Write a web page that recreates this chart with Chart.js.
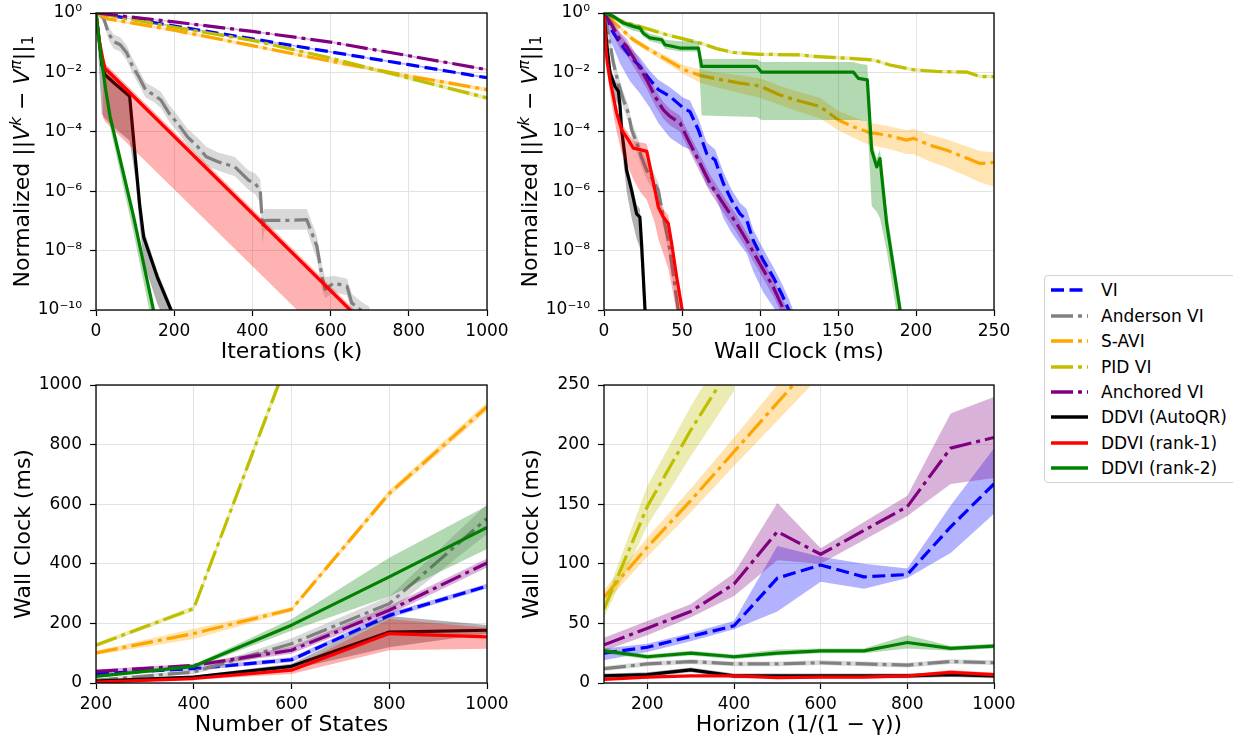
<!DOCTYPE html>
<html>
<head>
<meta charset="utf-8">
<title>DDVI convergence and wall clock</title>
<script src="https://cdn.jsdelivr.net/npm/chart.js@4.4.1/dist/chart.umd.min.js"></script>
<style>
  html, body { margin: 0; padding: 0; background: #fff; }
  body { position: relative; width: 1233px; height: 738px; overflow: hidden; font-family: "DejaVu Sans", sans-serif; }
  canvas { position: absolute; }
  #legend { position: absolute; left: 1044px; top: 275px; width: 210px; height: 208px; box-sizing: border-box;
            border: 1px solid #d4d4d4; border-radius: 4px; background: #fff; }
  #legend .row { position: absolute; left: 0; height: 24px; line-height: 24px; font-size: 17px; color: #000; white-space: nowrap; }
  #legend svg { position: absolute; left: 6px; top: 8px; }
  #legend span { position: absolute; left: 56px; top: 0; }
</style>
</head>
<body>
<canvas id="tl"></canvas>
<canvas id="tr"></canvas>
<canvas id="bl"></canvas>
<canvas id="br"></canvas>
<div id="legend"></div>
<script>
const methods = ['VI', 'Anderson VI', 'S-AVI', 'PID VI', 'Anchored VI', 'DDVI (AutoQR)', 'DDVI (rank-1)', 'DDVI (rank-2)'];

// ---- top left: error vs iterations. values are exponents e, error = 10^-e
const tlViX = [0, 200, 400, 600, 800, 1000];
const tlViE = [0, 0.44, 0.87, 1.31, 1.74, 2.18];
const tlViHi = [0, 0.42, 0.85, 1.28, 1.71, 2.15];
const tlViLo = [0, 0.47, 0.9, 1.34, 1.77, 2.21];

const tlAndX = [0, 19, 32, 45, 62, 79, 92, 109, 127, 148, 166, 187, 209, 234, 260, 282, 312, 355, 390, 407, 420, 426, 430, 437, 502, 539, 565, 578, 586, 608, 642, 654, 676, 700];
const tlAndE = [0, 0.15, 0.68, 0.96, 1.07, 1.35, 1.75, 2.14, 2.59, 2.76, 2.93, 3.38, 3.72, 4.17, 4.5, 4.84, 5.01, 5.18, 5.63, 5.74, 5.97, 7.2, 7.0, 6.98, 6.98, 6.96, 7.86, 8.87, 9.3, 9.09, 9.2, 9.76, 9.99, 10.2];
const tlAndHi = [0, 0, 0.45, 0.72, 0.82, 1.1, 1.5, 1.9, 2.35, 2.5, 2.65, 3.1, 3.45, 3.9, 4.2, 4.5, 4.7, 4.85, 5.3, 5.4, 5.6, 6.8, 6.6, 6.6, 6.6, 6.6, 7.5, 8.5, 8.9, 8.85, 8.95, 9.45, 9.7, 9.9];
const tlAndLo = [0, 0.3, 0.9, 1.2, 1.3, 1.6, 2.0, 2.4, 2.85, 3.0, 3.2, 3.65, 4.0, 4.45, 4.8, 5.15, 5.3, 5.5, 5.95, 6.1, 6.4, 7.8, 7.35, 7.3, 7.3, 7.3, 8.3, 9.3, 9.6, 9.4, 9.5, 10.1, 10.3, 10.5];

const tlSaviX = [0, 30, 200, 400, 600, 800, 1000];
const tlSaviE = [0, 0.2, 0.58, 1.1, 1.62, 2.12, 2.58];
const tlSaviHi = [0, 0.15, 0.53, 1.05, 1.57, 2.06, 2.52];
const tlSaviLo = [0, 0.25, 0.64, 1.16, 1.68, 2.19, 2.66];

const tlPidX = [0, 200, 400, 600, 800, 1000];
const tlPidE = [0, 0.48, 0.92, 1.52, 2.19, 2.86];
const tlPidHi = [0, 0.44, 0.88, 1.47, 2.13, 2.79];
const tlPidLo = [0, 0.52, 0.97, 1.58, 2.26, 2.94];

const tlAncX = [0, 200, 400, 600, 800, 1000];
const tlAncE = [0, 0.3, 0.62, 0.98, 1.44, 1.91];
const tlAncHi = [0, 0.28, 0.59, 0.95, 1.41, 1.88];
const tlAncLo = [0, 0.33, 0.65, 1.01, 1.47, 1.94];

const tlQrX = [0, 10, 15, 23, 50, 86, 101, 112, 122, 157, 191, 205];
const tlQrE = [0, 1.1, 1.75, 2.08, 2.4, 2.8, 4.95, 6.5, 7.55, 8.9, 9.97, 10.5];
const tlQrHi = [0, 0.9, 1.55, 1.85, 2.2, 2.6, 4.6, 6.2, 7.3, 8.7, 9.8, 10.3];
const tlQrLo = [0, 2.4, 3.4, 3.55, 3.9, 4.3, 5.6, 7.2, 8.4, 9.8, 10.8, 11.3];

const tlR1X = [0, 8, 17, 23, 650, 700];
const tlR1E = [0, 0.9, 1.52, 1.86, 10.0, 10.65];
const tlR1BandX = [17, 23, 700];
const tlR1Hi = [1.35, 1.7, 10.5];
const tlR1Lo = [3.5, 3.65, 12.4];

const tlR2X = [0, 5, 10, 15, 25, 36, 96, 147, 160];
const tlR2E = [0, 0.6, 1.15, 1.65, 2.6, 3.48, 6.85, 10.0, 10.8];
const tlR2Hi = [0, 0.55, 1.08, 1.58, 2.5, 3.4, 6.75, 9.9, 10.7];
const tlR2Lo = [0, 0.75, 1.35, 1.9, 2.9, 3.85, 7.4, 10.7, 11.5];

// ---- top right: error vs wall clock (ms), same exponent encoding
const trViX = [0, 4, 10.3, 16.7, 23, 29.5, 34.8, 42.3, 50.9, 55.1, 60.5, 65.8, 71.2, 76.5, 81.8, 87.2, 91.5, 95.7, 102.1, 108.5, 113.9, 118.2, 121];
const trViE = [0, 0.5, 1.01, 1.46, 1.8, 2.25, 2.58, 2.81, 3.2, 3.32, 3.94, 4.73, 4.95, 5.74, 6.31, 6.76, 6.98, 7.66, 8.33, 8.9, 9.46, 9.97, 10.3];
const trViHi = [0, 0.2, 0.7, 1.15, 1.5, 1.95, 2.25, 2.5, 2.85, 2.95, 3.55, 4.35, 4.6, 5.35, 5.95, 6.4, 6.6, 7.3, 7.95, 8.55, 9.1, 9.6, 9.95];
const trViLo = [0, 0.9, 1.7, 2.3, 2.7, 3.2, 3.7, 4.2, 4.5, 4.6, 5.1, 5.8, 6.1, 6.9, 7.4, 7.8, 8.1, 8.7, 9.4, 9.9, 10.4, 10.9, 11.2];

const trAndX = [0, 2.8, 6, 9.2, 12.4, 15.6, 17.7, 21, 24.2, 27.4, 31.6, 34.8, 38, 41.2, 43.4, 45.5, 47.6, 49];
const trAndE = [0, 0.7, 1.68, 2.36, 2.92, 3.37, 3.93, 4.38, 4.88, 5.3, 5.63, 5.97, 6.87, 7.66, 8.45, 9.23, 10.0, 10.5];
const trAndHi = [0, 0.45, 1.4, 2.1, 2.65, 3.1, 3.65, 4.1, 4.6, 5.0, 5.35, 5.7, 6.55, 7.35, 8.15, 8.95, 9.7, 10.2];
const trAndLo = [0, 0.95, 1.95, 2.65, 3.2, 3.65, 4.2, 4.7, 5.2, 5.6, 5.95, 6.3, 7.2, 8.0, 8.8, 9.55, 10.3, 10.8];

const trSaviX = [0, 10.3, 18.8, 29.5, 40.2, 50.9, 61.5, 72.2, 87.2, 100, 112.8, 121, 138.5, 150.2, 159.8, 170.5, 181.2, 194, 198.3, 209, 219.7, 230.4, 241, 250];
const trSaviE = [0, 0.5, 0.9, 1.25, 1.57, 1.9, 2.1, 2.22, 2.36, 2.46, 2.76, 2.9, 3.15, 3.6, 3.83, 4.03, 4.11, 4.28, 4.22, 4.45, 4.62, 4.84, 5.07, 5.03];
const trSaviHi = [0, 0.44, 0.82, 1.15, 1.45, 1.75, 1.9, 2.0, 2.1, 2.2, 2.45, 2.6, 2.85, 3.3, 3.5, 3.7, 3.8, 3.95, 3.9, 4.1, 4.25, 4.45, 4.65, 4.7];
const trSaviLo = [0, 0.56, 1.0, 1.35, 1.7, 2.05, 2.35, 2.5, 2.7, 2.85, 3.1, 3.25, 3.55, 3.95, 4.2, 4.45, 4.55, 4.75, 4.75, 5.0, 5.2, 5.45, 5.7, 5.85];

const trPidX = [0, 10.3, 18.8, 29.5, 40.2, 50.9, 61.5, 72.2, 82.9, 100, 125.6, 134.2, 155.6, 172.6, 183.3, 198.3, 213.3, 232.6, 241, 250];
const trPidE = [0, 0.25, 0.39, 0.56, 0.73, 0.87, 1.01, 1.2, 1.33, 1.39, 1.41, 1.46, 1.52, 1.58, 1.75, 1.91, 1.97, 1.99, 2.14, 2.14];
const trPidHi = [0, 0.2, 0.34, 0.5, 0.67, 0.81, 0.95, 1.14, 1.27, 1.33, 1.35, 1.4, 1.46, 1.52, 1.69, 1.85, 1.91, 1.93, 2.08, 2.08];
const trPidLo = [0, 0.3, 0.44, 0.62, 0.79, 0.93, 1.07, 1.26, 1.39, 1.45, 1.47, 1.52, 1.58, 1.64, 1.81, 1.97, 2.03, 2.05, 2.2, 2.2];

const trAncX = [0, 5, 10.3, 14.5, 21, 27.4, 32.7, 38, 42.3, 48.7, 53, 59.4, 68, 76.5, 85, 91.5, 100, 108.5, 115, 118];
const trAncE = [0, 0.4, 0.9, 1.12, 1.68, 2.25, 2.81, 3.26, 3.48, 3.7, 4.17, 4.84, 5.74, 6.42, 7.09, 7.66, 8.45, 9.23, 9.97, 10.3];
const trAncHi = [0, 0.2, 0.65, 0.87, 1.43, 2.0, 2.56, 3.0, 3.23, 3.45, 3.9, 4.55, 5.45, 6.15, 6.8, 7.4, 8.15, 8.95, 9.7, 10.0];
const trAncLo = [0, 0.65, 1.2, 1.42, 1.98, 2.55, 3.11, 3.56, 3.78, 4.0, 4.47, 5.14, 6.04, 6.72, 7.39, 7.96, 8.75, 9.53, 10.27, 10.6];

const trQrX = [0, 1.7, 3.85, 7.05, 9.2, 10.3, 11.3, 13.5, 14.5, 17.7, 20.9, 23, 24.1, 26.3, 28];
const trQrE = [0, 1.01, 2.02, 2.47, 2.64, 3.14, 3.93, 4.83, 5.3, 5.97, 6.76, 6.87, 7.77, 10.0, 10.8];
const trQrHi = [0, 0.85, 1.8, 2.25, 2.45, 2.9, 3.65, 4.55, 5.0, 5.7, 6.45, 6.6, 7.5, 9.7, 10.5];
const trQrLo = [0, 1.4, 2.5, 2.9, 3.1, 3.7, 4.5, 5.5, 6.0, 6.9, 7.6, 7.9, 8.7, 10.8, 11.5];

const trR1X = [0, 1.28, 2.1, 3.85, 6.0, 8.1, 11.3, 15.6, 18.8, 23, 27.4, 29.5, 32.7, 34.8, 38, 41.2, 43.4, 46.6, 49.8, 52];
const trR1E = [0, 1.24, 1.68, 2.25, 2.81, 3.37, 3.93, 4.27, 4.55, 4.6, 4.66, 5.18, 5.97, 6.53, 6.87, 7.09, 7.77, 8.9, 9.91, 10.6];
const trR1Hi = [0, 1.1, 1.5, 2.05, 2.6, 3.15, 3.7, 4.05, 4.3, 4.35, 4.4, 4.9, 5.7, 6.25, 6.6, 6.8, 7.5, 8.6, 9.6, 10.3];
const trR1Lo = [0, 1.5, 2.0, 2.7, 3.4, 4.0, 4.7, 5.2, 5.6, 6.0, 6.3, 6.6, 7.1, 7.6, 8.1, 8.6, 9.2, 10.1, 10.9, 11.5];

const trR2X = [0, 6, 12.4, 18.8, 23, 25.2, 29.5, 37, 39.1, 48.7, 60.5, 62.6, 97.9, 101, 159.8, 163, 168.8, 171.6, 174.8, 176.9, 181.2, 189.7, 192];
const trR2E = [0, 0.11, 0.34, 0.45, 0.51, 0.68, 0.84, 0.9, 1.07, 1.18, 1.18, 1.8, 1.8, 1.99, 1.99, 2.2, 2.25, 4.62, 5.18, 4.9, 7.09, 9.97, 10.6];
const trR2Hi = [0, 0.05, 0.25, 0.35, 0.4, 0.55, 0.7, 0.8, 0.9, 0.95, 0.95, 1.55, 1.55, 1.65, 1.65, 1.7, 1.75, 4.3, 4.9, 4.6, 6.6, 9.6, 10.3];
const trR2Lo = [0, 0.2, 0.45, 0.6, 0.65, 0.8, 0.95, 1.05, 1.2, 1.3, 1.3, 3.45, 3.5, 3.6, 3.6, 3.6, 3.65, 6.5, 6.7, 6.9, 8.0, 10.8, 11.3];

// ---- bottom left: wall clock (ms) vs number of states
const blX = [200, 400, 600, 800, 1000];
const blVi = [31, 48, 78, 227, 325];
const blViLo = [26, 43, 70, 218, 317];
const blViHi = [36, 53, 86, 236, 333];
const blAnd = [9, 37, 132, 266, 552];
const blAndLo = [4, 30, 112, 240, 500];
const blAndHi = [14, 44, 150, 290, 600];
const blSavi = [101, 166, 247, 636, 927];
const blSaviLo = [94, 148, 240, 625, 912];
const blSaviHi = [108, 182, 254, 648, 942];
const blPidX = [200, 400, 600];
const blPid = [127, 250, 1117];
const blPidLo = [120, 242, 1100];
const blPidHi = [134, 258, 1135];
const blAnc = [39, 59, 110, 244, 403];
const blAncLo = [33, 53, 98, 230, 388];
const blAncHi = [45, 65, 122, 258, 418];
const blQr = [6, 20, 56, 171, 177];
const blQrLo = [3, 15, 45, 120, 165];
const blQrHi = [9, 25, 65, 225, 195];
const blR1 = [3, 15, 43, 166, 155];
const blR1Lo = [1, 11, 30, 110, 115];
const blR1Hi = [5, 19, 50, 215, 185];
const blR2 = [22, 56, 194, 356, 522];
const blR2Lo = [18, 50, 175, 290, 450];
const blR2Hi = [26, 62, 215, 420, 595];

// ---- bottom right: wall clock (ms) vs horizon
const brX = [100, 200, 300, 400, 500, 600, 700, 800, 900, 1000];
const brVi = [25, 30, 39, 48, 88, 99, 89, 91, 131, 167];
const brViLo = [19, 26, 35, 45, 60, 85, 79, 88, 109, 142];
const brViHi = [29, 33, 42, 52, 115, 106, 100, 96, 149, 197];
const brAnd = [12, 16, 18, 16, 16, 17, 16, 15, 18, 17];
const brAndLo = [10, 14, 16, 14, 14, 15, 14, 13, 16, 15];
const brAndHi = [14, 18, 20, 18, 18, 19, 18, 17, 20, 19];
const brSaviX = [100, 200, 300, 400, 500, 600];
const brSavi = [72, 114, 153, 194, 235, 276];
const brSaviLo = [66, 106, 143, 182, 220, 258];
const brSaviHi = [78, 122, 163, 206, 250, 294];
const brPidX = [100, 200, 300, 400];
const brPid = [62, 148, 212, 270];
const brPidLo = [55, 132, 190, 245];
const brPidHi = [68, 165, 232, 292];
const brAnc = [32, 46, 60, 83, 127, 108, 128, 148, 197, 206];
const brAncLo = [27, 40, 55, 73, 103, 100, 120, 140, 167, 172];
const brAncHi = [38, 52, 66, 92, 151, 113, 135, 157, 226, 240];
const brQr = [6, 7, 11, 6, 6, 6, 6, 6, 7, 6];
const brQrLo = [4, 5, 9, 4, 4, 4, 4, 4, 5, 4];
const brQrHi = [8, 9, 13, 8, 8, 8, 8, 8, 9, 8];
const brR1 = [3, 5, 6, 6, 4.5, 5, 5, 6, 9, 7];
const brR1Lo = [2, 4, 5, 5, 3.5, 4, 4, 5, 7, 5.5];
const brR1Hi = [4, 6, 7, 7, 5.5, 6, 6, 7, 11, 8.5];
const brR2 = [27, 22, 25, 22, 25, 27, 27, 34, 29, 31];
const brR2Lo = [25, 20, 23, 20, 23, 25, 25, 29, 27, 29];
const brR2Hi = [29, 24, 27, 24, 28, 29, 29, 40, 31, 33];

// tick values
const tlTicksX = [0, 200, 400, 600, 800, 1000];
const trTicksX = [0, 50, 100, 150, 200, 250];
const logTicks = [1e-10, 1e-8, 1e-6, 1e-4, 1e-2, 1];
const blTicksX = [200, 400, 600, 800, 1000];
const blTicksY = [0, 200, 400, 600, 800, 1000];
const brTicksX = [200, 400, 600, 800, 1000];
const brTicksY = [0, 50, 100, 150, 200, 250];

// styles
const FONT = '"DejaVu Sans", sans-serif';
const colors = ['#0000ff', '#808080', '#ffa500', '#bfbf00', '#800080', '#000000', '#ff0000', '#008000'];
const bands = ['rgba(0,0,255,0.3)', 'rgba(128,128,128,0.3)', 'rgba(255,165,0,0.3)', 'rgba(191,191,0,0.3)',
  'rgba(128,0,128,0.3)', 'rgba(0,0,0,0.3)', 'rgba(255,0,0,0.3)', 'rgba(0,128,0,0.3)'];
const dashes = [[13, 5.5], [22, 5, 4, 5], [22, 5, 4, 5], [22, 5, 4, 5], [22, 5, 4, 5], [], [], []];

const PAD_TOP = 20;   // room for the top tick label + padding, so chart area is not pushed down
const pow10 = a => a && a.map(e => Math.pow(10, -e));
const logSeries = (x, e, hi, lo, bx) => ({ x: x, y: pow10(e), hi: pow10(hi), lo: pow10(lo), bx: bx });

const tlSeries = [
  logSeries(tlViX, tlViE, tlViHi, tlViLo),
  logSeries(tlAndX, tlAndE, tlAndHi, tlAndLo),
  logSeries(tlSaviX, tlSaviE, tlSaviHi, tlSaviLo),
  logSeries(tlPidX, tlPidE, tlPidHi, tlPidLo),
  logSeries(tlAncX, tlAncE, tlAncHi, tlAncLo),
  logSeries(tlQrX, tlQrE, tlQrHi, tlQrLo),
  logSeries(tlR1X, tlR1E, tlR1Hi, tlR1Lo, tlR1BandX),
  logSeries(tlR2X, tlR2E, tlR2Hi, tlR2Lo)
];
const trSeries = [
  logSeries(trViX, trViE, trViHi, trViLo),
  logSeries(trAndX, trAndE, trAndHi, trAndLo),
  logSeries(trSaviX, trSaviE, trSaviHi, trSaviLo),
  logSeries(trPidX, trPidE, trPidHi, trPidLo),
  logSeries(trAncX, trAncE, trAncHi, trAncLo),
  logSeries(trQrX, trQrE, trQrHi, trQrLo),
  logSeries(trR1X, trR1E, trR1Hi, trR1Lo),
  logSeries(trR2X, trR2E, trR2Hi, trR2Lo)
];
const blSeries = [
  { x: blX, y: blVi, hi: blViHi, lo: blViLo },
  { x: blX, y: blAnd, hi: blAndHi, lo: blAndLo },
  { x: blX, y: blSavi, hi: blSaviHi, lo: blSaviLo },
  { x: blPidX, y: blPid, hi: blPidHi, lo: blPidLo },
  { x: blX, y: blAnc, hi: blAncHi, lo: blAncLo },
  { x: blX, y: blQr, hi: blQrHi, lo: blQrLo },
  { x: blX, y: blR1, hi: blR1Hi, lo: blR1Lo },
  { x: blX, y: blR2, hi: blR2Hi, lo: blR2Lo }
];
const brSeries = [
  { x: brX, y: brVi, hi: brViHi, lo: brViLo },
  { x: brX, y: brAnd, hi: brAndHi, lo: brAndLo },
  { x: brSaviX, y: brSavi, hi: brSaviHi, lo: brSaviLo },
  { x: brPidX, y: brPid, hi: brPidHi, lo: brPidLo },
  { x: brX, y: brAnc, hi: brAncHi, lo: brAncLo },
  { x: brX, y: brQr, hi: brQrHi, lo: brQrLo },
  { x: brX, y: brR1, hi: brR1Hi, lo: brR1Lo },
  { x: brX, y: brR2, hi: brR2Hi, lo: brR2Lo }
];

function pts(xs, ys) {
  return xs.map((x, i) => ({ x: x, y: ys[i] }));
}

// later methods are drawn on top, like in matplotlib
function buildDatasets(series) {
  const out = [];
  series.forEach((s, i) => {
    const rank = 8 - i;
    if (s.hi) {
      const bx = s.bx || s.x;
      out.push({ data: pts(bx, s.hi), borderColor: 'rgba(0,0,0,0)', borderWidth: 0, fill: '+1',
        backgroundColor: bands[i], order: 2 * rank + 1, clip: 0 });
      out.push({ data: pts(bx, s.lo), borderColor: 'rgba(0,0,0,0)', borderWidth: 0, fill: false,
        order: 2 * rank + 1, clip: 0 });
    }
    out.push({ label: methods[i], data: pts(s.x, s.y), borderColor: colors[i], borderWidth: 3.2,
      borderDash: dashes[i], fill: false, order: 2 * rank, clip: 0 });
  });
  return out;
}

const sup = { '-': '\u207b', '0': '\u2070', '1': '\u00b9', '2': '\u00b2', '4': '\u2074', '6': '\u2076', '8': '\u2078' };
function powLabel(v) {
  const p = Math.round(Math.log10(v));
  return '10' + String(p).split('').map(c => sup[c]).join('');
}

// black box around the axes (matplotlib spines)
const frame = {
  id: 'frame',
  afterDatasetsDraw(chart) {
    const { ctx, chartArea: a } = chart;
    ctx.save();
    ctx.strokeStyle = '#000';
    ctx.lineWidth = 1.3;
    ctx.strokeRect(a.left, a.top, a.right - a.left, a.bottom - a.top);
    ctx.restore();
  }
};

// y title with super/subscripts: Normalized ||V^k - V^pi||_1
function mathTitle(baseX) {
  return {
    id: 'mathTitle',
    afterDraw(chart) {
      const ctx = chart.ctx, a = chart.chartArea;
      const parts = [
        ['Normalized ||', 22, '', 0],
        ['V', 22, 'italic ', 0],
        ['k', 15.4, 'italic ', -8.5],
        [' \u2212 ', 22, '', 0],
        ['V', 22, 'italic ', 0],
        ['\u03c0', 15.4, 'italic ', -8.5],
        ['||', 22, '', 0],
        ['1', 15.4, '', 4]
      ];
      ctx.save();
      ctx.translate(baseX, (a.top + a.bottom) / 2);
      ctx.rotate(-Math.PI / 2);
      ctx.fillStyle = '#000';
      ctx.textBaseline = 'alphabetic';
      ctx.textAlign = 'left';
      let total = 0;
      const widths = parts.map(p => {
        ctx.font = p[2] + p[1] + 'px ' + FONT;
        const w = ctx.measureText(p[0]).width;
        total += w;
        return w;
      });
      let cx = -total / 2;
      parts.forEach((p, i) => {
        ctx.font = p[2] + p[1] + 'px ' + FONT;
        ctx.fillText(p[0], cx, p[3]);
        cx += widths[i];
      });
      ctx.restore();
    }
  };
}

const grid = { color: '#e3e3e3', lineWidth: 1, tickColor: '#000', tickLength: 6, tickWidth: 1.2 };

function xAxis(min, max, ticks, title) {
  return {
    type: 'linear', min: min, max: max,
    afterBuildTicks: s => { s.ticks = ticks.map(v => ({ value: v })); },
    afterFit: s => { s.height = 60; },
    grid: grid, border: { display: false },
    ticks: { color: '#000', font: { family: FONT, size: 17 }, padding: 5, maxRotation: 0, autoSkip: false,
      callback: v => String(v) },
    title: { display: true, text: title, color: '#000', font: { family: FONT, size: 22 }, padding: { top: 0, bottom: 5 } }
  };
}

function yAxis(type, min, max, ticks, title) {
  return {
    type: type, min: min, max: max,
    afterBuildTicks: s => { s.ticks = ticks.map(v => ({ value: v })); },
    afterFit: s => { s.width = 96; },
    grid: grid, border: { display: false },
    ticks: { color: '#000', font: { family: FONT, size: 17 }, padding: 8, autoSkip: false,
      callback: v => type === 'logarithmic' ? powLabel(v) : String(v) },
    title: { display: !!title, text: title || '', color: '#000', font: { family: FONT, size: 22 }, padding: { top: 11, bottom: 0 } }
  };
}

function makeChart(id, plot, series, xs, ys, extra) {
  const cv = document.getElementById(id);
  cv.width = plot.r - plot.l + 96 + 40;
  cv.height = plot.b - plot.t + PAD_TOP + 60;
  cv.style.left = (plot.l - 96) + 'px';
  cv.style.top = (plot.t - PAD_TOP) + 'px';
  return new Chart(cv, {
    type: 'line',
    data: { datasets: buildDatasets(series) },
    options: {
      responsive: false,
      animation: false,
      devicePixelRatio: 1,
      layout: { padding: { top: PAD_TOP, right: 40, left: 0, bottom: 0 } },
      plugins: { legend: { display: false }, tooltip: { enabled: false } },
      elements: {
        point: { radius: 0 },
        line: { tension: 0, borderJoinStyle: 'round', borderCapStyle: 'butt' }
      },
      scales: { x: xs, y: ys }
    },
    plugins: [frame].concat(extra || [])
  });
}

makeChart('tl', { l: 96, t: 13, r: 487, b: 310 }, tlSeries,
  xAxis(0, 1000, tlTicksX, 'Iterations (k)'),
  yAxis('logarithmic', 1e-10, 1, logTicks, null), [mathTitle(29)]);

makeChart('tr', { l: 604, t: 13, r: 994, b: 310 }, trSeries,
  xAxis(0, 250, trTicksX, 'Wall Clock (ms)'),
  yAxis('logarithmic', 1e-10, 1, logTicks, null), [mathTitle(29)]);

makeChart('bl', { l: 96, t: 385, r: 487, b: 683 }, blSeries,
  xAxis(200, 1000, blTicksX, 'Number of States'),
  yAxis('linear', 0, 1000, blTicksY, 'Wall Clock (ms)'));

makeChart('br', { l: 604, t: 385, r: 994, b: 683 }, brSeries,
  xAxis(100, 1000, brTicksX, 'Horizon (1/(1 \u2212 \u03b3))'),
  yAxis('linear', 0, 250, brTicksY, 'Wall Clock (ms)'));

// legend box on the right
const legendEl = document.getElementById('legend');
methods.forEach((m, i) => {
  const row = document.createElement('div');
  row.className = 'row';
  row.style.top = (2.3 + 25.4 * i) + 'px';
  const dash = dashes[i].length ? dashes[i].join(' ') : 'none';
  row.innerHTML = '<svg width="40" height="8"><line x1="0" y1="4" x2="37" y2="4" stroke="' + colors[i] +
    '" stroke-width="3.3" stroke-dasharray="' + dash + '"/></svg><span>' + m + '</span>';
  legendEl.appendChild(row);
});
</script>
</body>
</html>
